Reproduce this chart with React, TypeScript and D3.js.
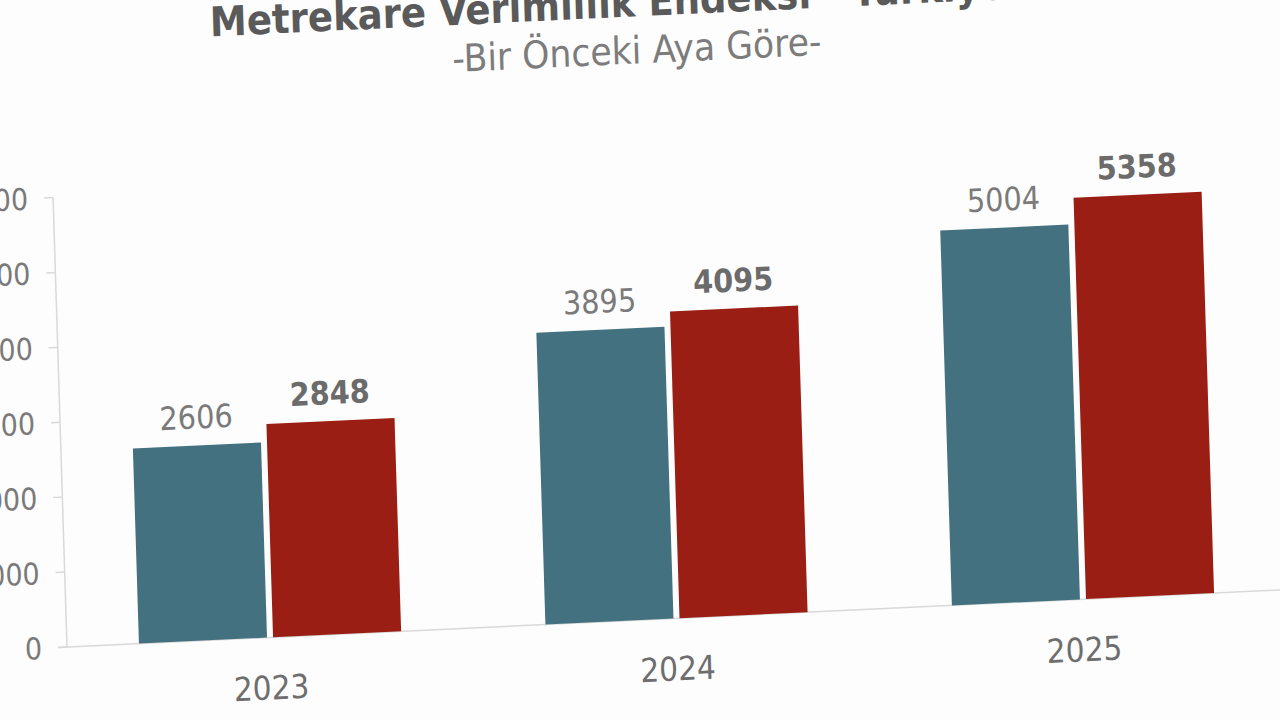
import React from "react";
import * as d3 from "d3";

const categories = ["2023", "2024", "2025"];
const seriesKeys = ["prev", "curr"];
const prevValues = [2606, 3895, 5004];
const currValues = [2848, 4095, 5358];
const yTicks = [0, 1000, 2000, 3000, 4000, 5000, 6000];
const titleText = "Metrekare Verimlilik Endeksi - Türkiye Geneli";
const subtitleText = "-Bir Önceki Aya Göre-";

const W = 1280;
const H = 720;
const PLOT_W = 1219;
const PLOT_H = 449.4;
const BLUE = "#44717F";
const RED = "#9B1E14";
const FONT = "'DejaVu Sans Condensed', 'DejaVu Sans', sans-serif";

export default function App() {
  const x0 = d3
    .scaleBand<string>()
    .domain(categories)
    .range([0, PLOT_W])
    .paddingInner(0.355)
    .paddingOuter(0.177);
  const x1 = d3
    .scaleBand<string>()
    .domain(seriesKeys)
    .range([0, x0.bandwidth()])
    .paddingInner(0.045);
  const y = d3.scaleLinear().domain([0, 6000]).range([0, -PLOT_H]);

  const data = categories.map((c, i) => ({
    cat: c,
    vals: [
      { key: "prev", v: prevValues[i], color: BLUE, bold: false },
      { key: "curr", v: currValues[i], color: RED, bold: true },
    ],
  }));

  return (
    <svg
      width={W}
      height={H}
      style={{ position: "absolute", left: 0, top: 0, background: "#fdfdfd" }}
    >
      <rect x={0} y={0} width={W} height={H} fill="#fdfdfd" />
      <g transform="matrix(1,-0.047,0.031,1,67,647)" fontFamily={FONT} style={{ fontStretch: "condensed" }}>
        {/* title */}
        <text
          x={162}
          y={-603}
          textAnchor="start"
          fontSize={41}
          fontWeight="bold"
          fill="#5a5a5a"
          textLength={940}
          lengthAdjust="spacingAndGlyphs"
        >
          {titleText}
        </text>
        <text
          x={403}
          y={-556}
          textAnchor="start"
          fontSize={38}
          fill="#7c7c7c"
          textLength={369}
          lengthAdjust="spacingAndGlyphs"
        >
          {subtitleText}
        </text>

        {/* y axis */}
        <line x1={0} x2={0} y1={y(0)} y2={y(6000)} stroke="#d9d9d9" strokeWidth={1.5} />
        {yTicks.map((t) => (
          <g key={t}>
            <line x1={-9} x2={0} y1={y(t)} y2={y(t)} stroke="#d9d9d9" strokeWidth={1.5} />
            <text
              x={-25}
              y={y(t)}
              dy="0.36em"
              textAnchor="end"
              fontSize={30}
              fill="#7a7a7a"
            >
              {t}
            </text>
          </g>
        ))}
        {/* baseline */}
        <line x1={-9} x2={PLOT_W + 20} y1={0} y2={0} stroke="#d9d9d9" strokeWidth={1.5} />

        {/* bars */}
        {data.map((d) => (
          <g key={d.cat} transform={`translate(${x0(d.cat)},0)`}>
            {d.vals.map((s) => (
              <g key={s.key}>
                <rect
                  x={x1(s.key)}
                  y={y(s.v)}
                  width={x1.bandwidth()}
                  height={-y(s.v)}
                  fill={s.color}
                />
                <text
                  x={(x1(s.key) as number) + x1.bandwidth() / 2}
                  y={y(s.v) - 17}
                  textAnchor="middle"
                  fontSize={32}
                  fontWeight={s.bold ? "bold" : "normal"}
                  fill={s.bold ? "#6b6b6b" : "#7a7a7a"}
                >
                  {s.v}
                </text>
              </g>
            ))}
            <text
              x={x0.bandwidth() / 2}
              y={62}
              textAnchor="middle"
              fontSize={33}
              fill="#6e6e6e"
            >
              {d.cat}
            </text>
          </g>
        ))}
      </g>
    </svg>
  );
}
